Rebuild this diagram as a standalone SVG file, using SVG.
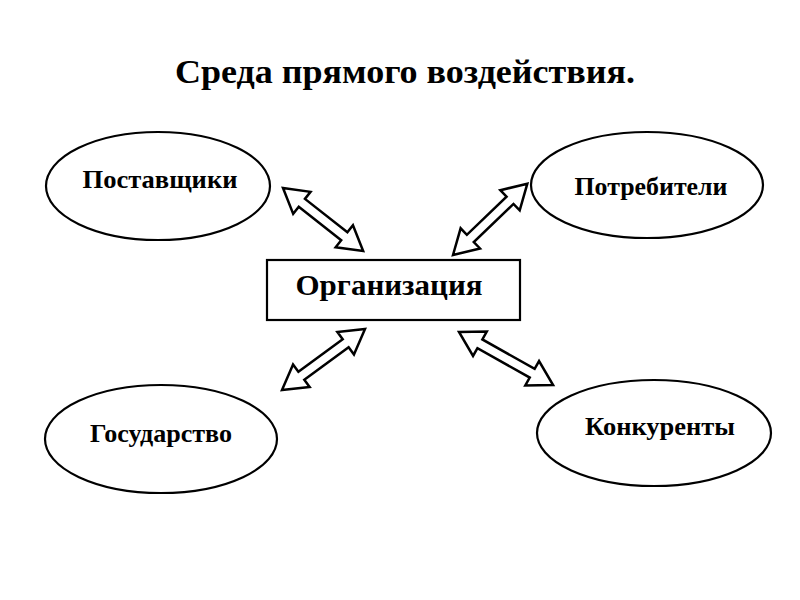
<svg xmlns="http://www.w3.org/2000/svg" width="800" height="600" viewBox="0 0 800 600">
<style>
.t{font-family:"Liberation Serif","Times New Roman",serif;font-weight:bold;fill:#000;text-anchor:middle}
.node{fill:#fff;stroke:#000;stroke-width:2.2}
.arr{fill:#fff;stroke:#000;stroke-width:2.5;stroke-linejoin:miter}
</style>
<rect width="800" height="600" fill="#fff"/>
<text class="t" x="405" y="83" font-size="33" textLength="460" lengthAdjust="spacingAndGlyphs">Среда прямого воздействия.</text>
<g id="connectors">
<path class="arr" transform="translate(283,188) rotate(38.2)" d="M0,0 L24,-14 L24,-5 L78,-5 L78,-14 L102,0 L78,14 L78,5 L24,5 L24,14 Z"/>
<path class="arr" transform="translate(453,255) rotate(-43.8)" d="M0,0 L24,-14 L24,-5 L79,-5 L79,-14 L103,0 L79,14 L79,5 L24,5 L24,14 Z"/>
<path class="arr" transform="translate(282,390) rotate(-36.3)" d="M0,0 L24,-14 L24,-5 L79,-5 L79,-14 L103,0 L79,14 L79,5 L24,5 L24,14 Z"/>
<path class="arr" transform="translate(459,332) rotate(29.4)" d="M0,0 L24,-14 L24,-5 L84,-5 L84,-14 L108,0 L84,14 L84,5 L24,5 L24,14 Z"/>
</g>
<g id="org">
<rect class="node" x="267" y="260" width="253" height="60" stroke-width="3"/>
<text class="t" x="389" y="295" font-size="30" textLength="187" lengthAdjust="spacingAndGlyphs">Организация</text>
</g>
<g id="suppliers">
<ellipse class="node" cx="158" cy="186" rx="112" ry="54"/>
<text class="t" x="160" y="188" font-size="25" textLength="155" lengthAdjust="spacingAndGlyphs">Поставщики</text>
</g>
<g id="consumers">
<ellipse class="node" cx="647" cy="185" rx="116" ry="53"/>
<text class="t" x="651" y="195" font-size="25" textLength="153" lengthAdjust="spacingAndGlyphs">Потребители</text>
</g>
<g id="state">
<ellipse class="node" cx="161" cy="439" rx="116" ry="54"/>
<text class="t" x="161" y="442" font-size="25" textLength="142" lengthAdjust="spacingAndGlyphs">Государство</text>
</g>
<g id="competitors">
<ellipse class="node" cx="654" cy="433" rx="117" ry="53"/>
<text class="t" x="660" y="435" font-size="25" textLength="150" lengthAdjust="spacingAndGlyphs">Конкуренты</text>
</g>
</svg>
